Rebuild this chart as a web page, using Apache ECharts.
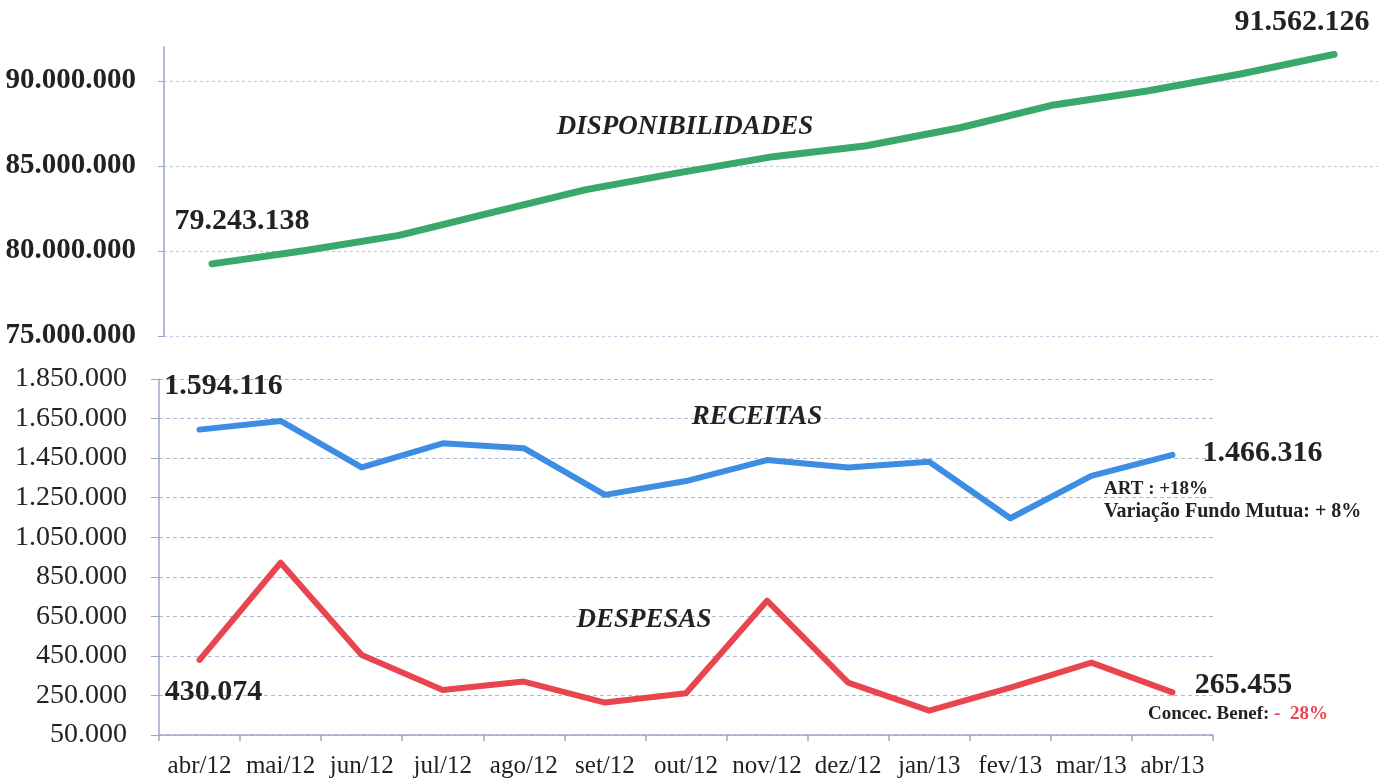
<!DOCTYPE html>
<html>
<head>
<meta charset="utf-8">
<title>Disponibilidades, Receitas e Despesas</title>
<script src="https://cdn.jsdelivr.net/npm/echarts@6/dist/echarts.min.js"></script>
<style>
  html, body { margin: 0; padding: 0; background: #fff; }
  #main { width: 1384px; height: 782px; }
</style>
</head>
<body>
<div id="main"></div>
<script>
// meses (eixo x)
var meses = ['abr/12', 'mai/12', 'jun/12', 'jul/12', 'ago/12', 'set/12', 'out/12',
  'nov/12', 'dez/12', 'jan/13', 'fev/13', 'mar/13', 'abr/13'];
// valores
var disponibilidades = [79243138, 80030000, 80920000, 82270000, 83610000, 84610000, 85550000,
  86190000, 87250000, 88590000, 89410000, 90410000, 91562126];
var receitas = [1594116, 1638000, 1403000, 1525000, 1500000, 1264000, 1334000,
  1440000, 1402000, 1432000, 1146000, 1360000, 1466316];
var despesas = [430074, 921000, 455000, 278000, 320000, 214000, 261000,
  729000, 315000, 173000, 290000, 416000, 265455];
// marcas do eixo de disponibilidades
var ticksDisp = [75000000, 80000000, 85000000, 90000000];

var serif = "'Liberation Serif', 'Times New Roman', serif";
var texto = '#222';

function fmt(v) {
  return String(Math.round(v)).replace(/\B(?=(\d{3})+(?!\d))/g, '.');
}

// rotulo do primeiro / ultimo ponto
function rotulo(offset) {
  return {
    show: true,
    position: 'inside',
    offset: offset,
    fontFamily: serif,
    fontSize: 30,
    fontWeight: 'bold',
    color: texto,
    formatter: function (p) {
      var v = Array.isArray(p.value) ? p.value[1] : p.value;
      return fmt(v);
    }
  };
}

function comRotulos(valores, offIni, offFim, comIndice) {
  var ultimo = valores.length - 1;
  return valores.map(function (v, i) {
    var item = { value: comIndice ? [i, v] : v };
    if (i === 0) item.label = rotulo(offIni);
    if (i === ultimo) item.label = rotulo(offFim);
    return item;
  });
}

var chart = echarts.init(document.getElementById('main'));

var corEixo = '#9aa5c8';

chart.setOption({
  animation: false,
  backgroundColor: '#fff',
  grid: [
    { left: 164, right: 6, top: 47, bottom: 446 },   // disponibilidades
    { left: 159, right: 171, top: 379, bottom: 47 }  // receitas e despesas
  ],
  xAxis: [
    {
      gridIndex: 0,
      type: 'value',
      min: -0.513,
      max: 12.47,
      show: false
    },
    {
      gridIndex: 1,
      type: 'category',
      data: meses,
      boundaryGap: true,
      axisLine: { lineStyle: { color: corEixo, width: 1.5 } },
      axisTick: { show: true, length: 6, lineStyle: { color: corEixo, width: 1.5 } },
      axisLabel: {
        margin: 19,
        fontFamily: serif,
        fontSize: 25,
        color: texto,
        interval: 0
      }
    }
  ],
  yAxis: [
    {
      gridIndex: 0,
      type: 'value',
      min: 75000000,
      max: 92000000,
      interval: 5000000,
      axisLine: { show: true, onZero: false, lineStyle: { color: corEixo, width: 1.5 } },
      axisTick: { show: true, length: 6, customValues: ticksDisp, lineStyle: { color: corEixo } },
      axisLabel: {
        margin: 28,
        customValues: ticksDisp,
        fontFamily: serif,
        fontSize: 29,
        fontWeight: 'bold',
        color: texto,
        formatter: fmt
      },
      splitLine: {
        show: true,
        lineStyle: { color: '#c3cbe0', width: 1.2, type: [3, 3] }
      }
    },
    {
      gridIndex: 1,
      type: 'value',
      min: 50000,
      max: 1850000,
      interval: 200000,
      axisLine: { show: true, lineStyle: { color: corEixo, width: 1.5 } },
      axisTick: { show: true, length: 8, lineStyle: { color: corEixo } },
      axisLabel: {
        margin: 32,
        fontFamily: serif,
        fontSize: 28,
        color: texto,
        formatter: fmt
      },
      splitLine: {
        show: true,
        lineStyle: { color: '#aeb8d2', width: 1.2, type: [4, 3] }
      }
    }
  ],
  series: [
    {
      name: 'DISPONIBILIDADES',
      type: 'line',
      xAxisIndex: 0,
      yAxisIndex: 0,
      data: comRotulos(disponibilidades, [30, -43], [-32, -32], true),
      symbol: 'circle',
      symbolSize: 0,
      lineStyle: { color: '#3aa86a', width: 7, cap: 'round', join: 'round' },
      itemStyle: { color: '#3aa86a' },
      z: 3
    },
    {
      name: 'RECEITAS',
      type: 'line',
      xAxisIndex: 1,
      yAxisIndex: 1,
      data: comRotulos(receitas, [24, -43], [90, -2], false),
      symbol: 'circle',
      symbolSize: 0,
      lineStyle: { color: '#3d8ee3', width: 6, cap: 'round', join: 'round' },
      itemStyle: { color: '#3d8ee3' },
      z: 3
    },
    {
      name: 'DESPESAS',
      type: 'line',
      xAxisIndex: 1,
      yAxisIndex: 1,
      data: comRotulos(despesas, [14, 32], [71, -7], false),
      symbol: 'circle',
      symbolSize: 0,
      lineStyle: { color: '#e8454e', width: 6, cap: 'round', join: 'round' },
      itemStyle: { color: '#e8454e' },
      z: 3
    }
  ],
  graphic: [
    {
      type: 'text', x: 685, y: 127, z: 10,
      style: { text: 'DISPONIBILIDADES', font: 'italic bold 27px ' + serif, fill: texto, align: 'center', verticalAlign: 'middle' }
    },
    {
      type: 'text', x: 757, y: 417, z: 10,
      style: { text: 'RECEITAS', font: 'italic bold 27px ' + serif, fill: texto, align: 'center', verticalAlign: 'middle' }
    },
    {
      type: 'text', x: 644, y: 620, z: 10,
      style: { text: 'DESPESAS', font: 'italic bold 27px ' + serif, fill: texto, align: 'center', verticalAlign: 'middle' }
    },
    {
      type: 'text', x: 1104, y: 489, z: 10,
      style: { text: 'ART : +18%', font: 'bold 19px ' + serif, fill: texto, align: 'left', verticalAlign: 'middle' }
    },
    {
      type: 'text', x: 1104, y: 512, z: 10,
      style: { text: 'Variação Fundo Mutua: + 8%', font: 'bold 20px ' + serif, fill: texto, align: 'left', verticalAlign: 'middle' }
    },
    {
      type: 'text', x: 1148, y: 714, z: 10,
      style: {
        text: '{a|Concec. Benef: }{b|-  28%}',
        align: 'left',
        verticalAlign: 'middle',
        rich: {
          a: { font: 'bold 19px ' + serif, fill: texto },
          b: { font: 'bold 19px ' + serif, fill: '#e8454e' }
        }
      }
    }
  ]
});
</script>
</body>
</html>
